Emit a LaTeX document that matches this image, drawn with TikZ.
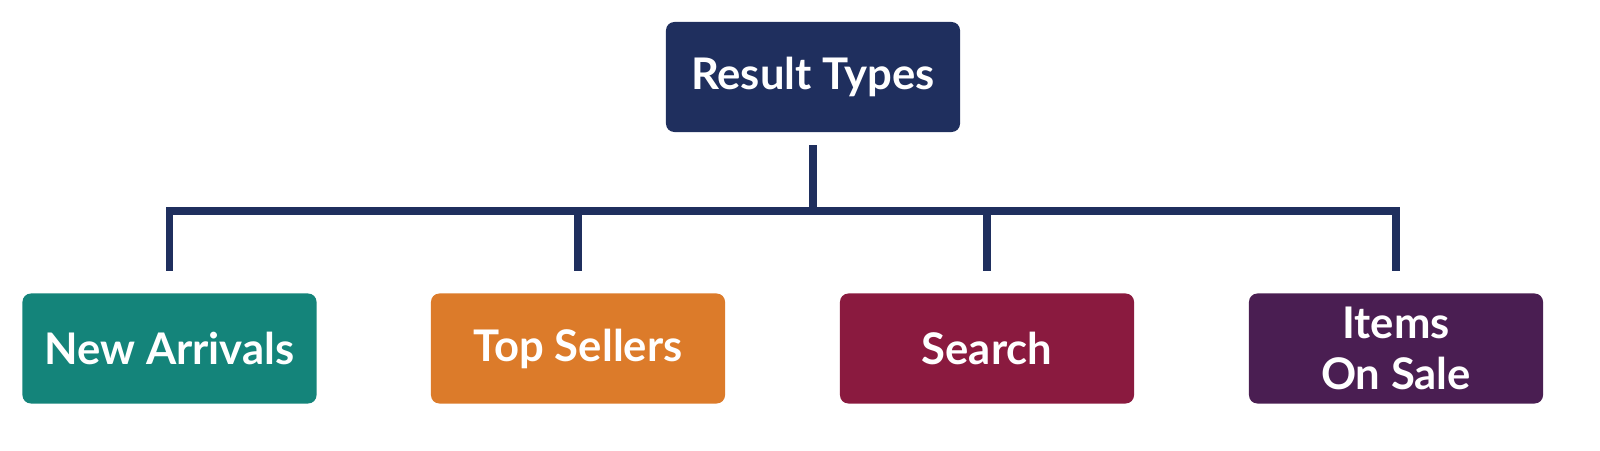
\documentclass[tikz,border=0pt]{standalone}
\usepackage{fontspec}
\setmainfont{Lato}
\definecolor{navy}{RGB}{31,47,94}
\definecolor{teal}{RGB}{20,132,122}
\definecolor{amber}{RGB}{220,123,42}
\definecolor{crimson}{RGB}{138,26,63}
\definecolor{plum}{RGB}{74,30,82}

\begin{document}
\begin{tikzpicture}[x=0.025cm, y=-0.025cm,
    every node/.style={font=\fontsize{31}{36}\selectfont\bfseries, text=white},
    typebox/.style={rectangle, rounded corners=6pt, minimum width=7.35cm, minimum height=2.75cm, align=center},
    link/.style={draw=navy, line width=5pt}]

\useasboundingbox (0,0) rectangle (1600,450);

% Root
\node[typebox, fill=navy] (types) at (813,77) {Result Types};

% Children
\node[typebox, fill=teal] (arrivals) at (169.5,348.5) {New Arrivals};
\node[typebox, fill=amber] (sellers) at (578,348.5) {Top Sellers};
\node[typebox, fill=crimson] (search) at (987,348.5) {Search};
\node[typebox, fill=plum] (sale) at (1396,348.5) {Items\\On Sale};

% Connectors
\coordinate (hub) at (813,211);
\draw[link] ([yshift=-0.325cm]types.south) -- (hub);
\foreach \child in {arrivals, sellers, search, sale}
  \draw[link] (hub) -| ([yshift=0.55cm]\child.north);

\end{tikzpicture}
\end{document}
